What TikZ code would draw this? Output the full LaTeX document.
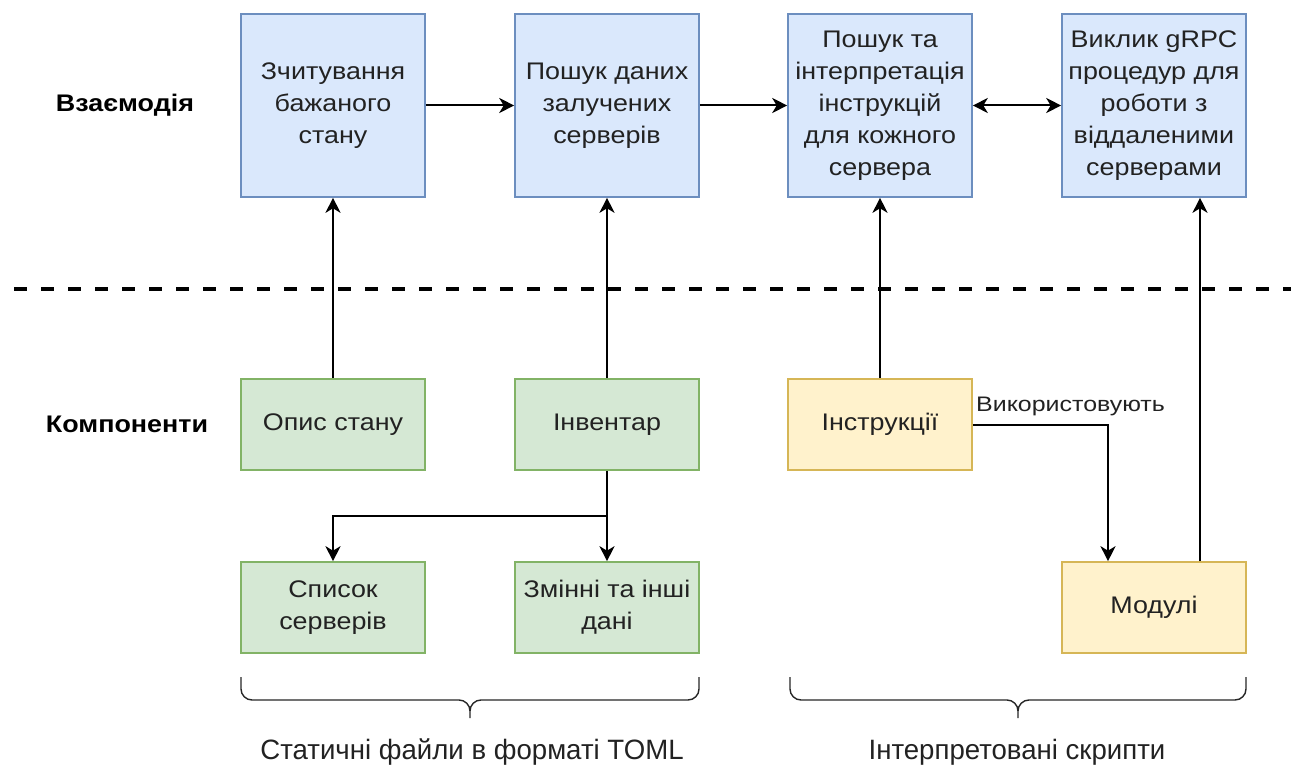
\documentclass[tikz,border=0pt]{standalone}
\usepackage{fontspec}
\setmainfont{Liberation Sans}[FakeStretch=1.12]
\usetikzlibrary{arrows.meta,calc}
\definecolor{bluefill}{HTML}{DAE8FC}
\definecolor{bluedraw}{HTML}{6C8EBF}
\definecolor{greenfill}{HTML}{D5E8D4}
\definecolor{greendraw}{HTML}{82B366}
\definecolor{yellowfill}{HTML}{FFF2CC}
\definecolor{yellowdraw}{HTML}{D6B656}
\definecolor{txt}{HTML}{222222}
\tikzset{
  box/.style={draw, line width=1.6pt, minimum width=184pt, align=center,
    text=txt, font=\fontsize{24}{32}\selectfont, inner sep=0pt},
  tall/.style={box, minimum height=183pt},
  short/.style={box, minimum height=91pt},
  proc/.style={fill=bluefill, draw=bluedraw},
  comp/.style={fill=greenfill, draw=greendraw},
  scr/.style={fill=yellowfill, draw=yellowdraw},
  rowlabel/.style={font=\fontsize{24}{28}\selectfont\bfseries, text=black},
  arr/.style={line width=2pt, -{Stealth[length=15pt,width=15pt,inset=4.5pt]}},
  biarr/.style={line width=2pt, {Stealth[length=15pt,width=15pt,inset=4.5pt]}-{Stealth[length=15pt,width=15pt,inset=4.5pt]}},
  conn/.style={line width=2pt},
  brace/.style={line width=1.4pt, draw=black!85},
  caption/.style={font=\fontsize{28}{32}\selectfont, text=txt, xscale=0.88}
}
\begin{document}
\begin{tikzpicture}[x=1pt,y=-1pt]
\useasboundingbox (0,0) rectangle (1291,767);

% interaction row
\node[tall,proc] (b1) at (333,105.5) {Зчитування\\бажаного\\стану};
\node[tall,proc] (b2) at (607,105.5) {Пошук даних\\залучених\\серверів};
\node[tall,proc] (b3) at (880,105.5) {Пошук та\\інтерпретація\\інструкцій\\для кожного\\сервера};
\node[tall,proc] (b4) at (1154,105.5) {Виклик gRPC\\процедур для\\роботи з\\віддаленими\\серверами};

% components
\node[short,comp] (opys) at (333,424.5) {Опис стану};
\node[short,comp] (inv) at (607,424.5) {Інвентар};
\node[short,scr] (instr) at (880,424.5) {Інструкції};
\node[short,comp] (spys) at (333,607.5) {Список\\серверів};
\node[short,comp] (zmin) at (607,607.5) {Змінні та інші\\дані};
\node[short,scr] (mod) at (1154,607.5) {Модулі};

% row labels
\node[rowlabel] (lint) at (125,105) {Взаємодія};
\node[rowlabel] (lcomp) at (127,424) {Компоненти};

% separator
\coordinate (sepL) at (14,289);
\coordinate (sepR) at (1291,289);
\draw[line width=3.5pt, dash pattern=on 13pt off 14pt] (sepL) -- (sepR);

% flow along the top row
\draw[arr] (b1.east) -- (b2.west);
\draw[arr] (b2.east) -- (b3.west);
\draw[biarr] (b3.east) -- (b4.west);

% components feeding the steps
\draw[arr] (opys.north) -- (b1.south);
\draw[arr] (inv.north) -- (b2.south);
\draw[arr] (instr.north) -- (b3.south);
\draw[arr] ([xshift=46pt]mod.north) -- ([xshift=46pt]b4.south);

% inventory split
\coordinate (split) at (607,516);
\draw[conn] (inv.south) -- (split);
\draw[arr] (split) -| (spys.north);
\draw[arr] (split) -- (zmin.north);

% instructions use modules
\draw[arr] (instr.east) -| ([xshift=-46pt]mod.north);
\node[font=\fontsize{21}{24}\selectfont, text=txt, anchor=base west, inner sep=0pt, xscale=1.06] (uses) at (976,411) {Використовують};

% braces
\coordinate (bl1) at (241,677);
\coordinate (br1) at (699,677);
\coordinate (bl2) at (790,677);
\coordinate (br2) at (1246,677);
\draw[brace] (bl1) -- ++(0,12) arc[start angle=180,end angle=90,radius=11] -- (459,700)
  arc[start angle=-90,end angle=0,radius=11] -- (470,718)
  (470,711) arc[start angle=180,end angle=270,radius=11] -- (688,700)
  arc[start angle=90,end angle=0,radius=11] -- (br1);
\draw[brace] (bl2) -- ++(0,12) arc[start angle=180,end angle=90,radius=11] -- (1007,700)
  arc[start angle=-90,end angle=0,radius=11] -- (1018,718)
  (1018,711) arc[start angle=180,end angle=270,radius=11] -- (1235,700)
  arc[start angle=90,end angle=0,radius=11] -- (br2);

\node[caption, anchor=base] (cap1) at (472,759) {Статичні файли в форматі TOML};
\node[caption, anchor=base] (cap2) at (1017,759) {Інтерпретовані скрипти};
\end{tikzpicture}
\end{document}
